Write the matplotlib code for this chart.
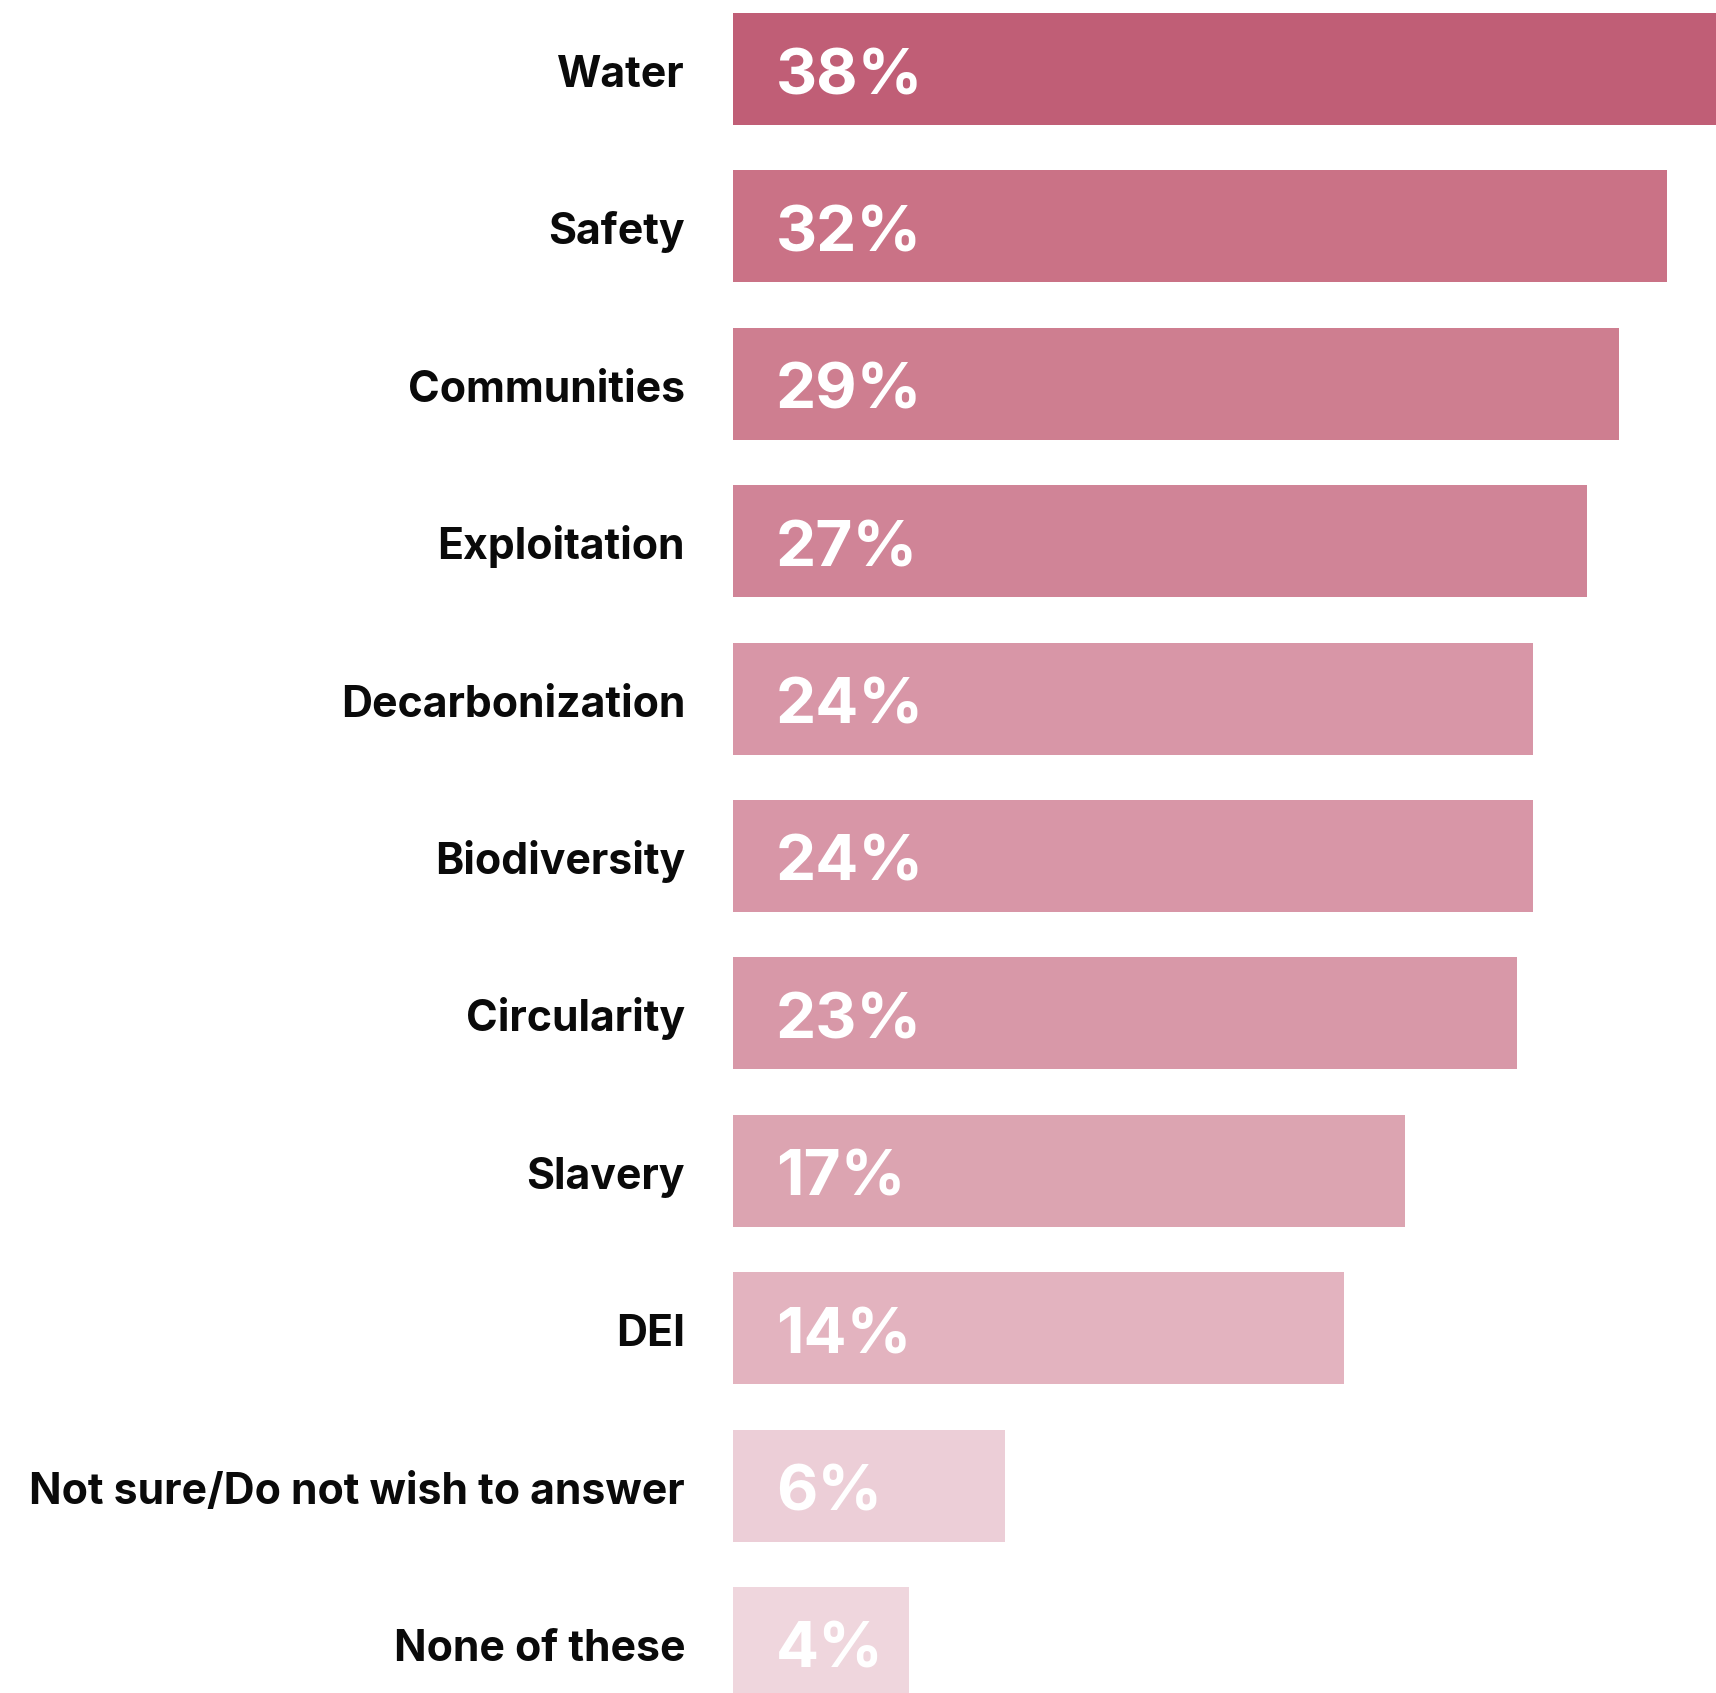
import matplotlib
matplotlib.use("Agg")
import matplotlib.pyplot as plt
from matplotlib.transforms import offset_copy

categories = ["Water", "Safety", "Communities", "Exploitation", "Decarbonization",
              "Biodiversity", "Circularity", "Slavery", "DEI",
              "Not sure/Do not wish to answer", "None of these"]
value_labels = ["38%", "32%", "29%", "27%", "24%", "24%", "23%", "17%", "14%", "6%", "4%"]
# bar lengths as drawn in the picture, relative to the Water bar (=100)
bar_lengths = [100, 95.0, 90.1, 86.9, 81.4, 81.4, 79.8, 68.4, 62.2, 27.7, 17.9]
colors = ["#C05E76", "#CA7286", "#CE7E90", "#D08497", "#D896A7", "#D896A7",
          "#D898A8", "#DCA4B1", "#E3B3BF", "#ECCED7", "#EFD6DD"]

W, H, DPI = 1716, 1693, 100
fig = plt.figure(figsize=(W / DPI, H / DPI), dpi=DPI)
ax_left = 733 / W
ax = fig.add_axes([ax_left, 0, 1 - ax_left, 1])

y = list(range(len(categories)))
ax.barh(y, bar_lengths, height=0.712, color=colors, left=0)

ax.set_xlim(0, 100)
ax.set_ylim(10.318, -0.4384)
ax.axis("off")

px = 72 / DPI
for i, (cat, lab) in enumerate(zip(categories, value_labels)):
    t_cat = offset_copy(ax.transData, fig=fig, x=-48 * px, y=-18 * px, units="points")
    ax.text(0, i, cat, transform=t_cat, ha="right", va="baseline",
            fontsize=30.8, fontweight="bold", family=["Inter", "DejaVu Sans"],
            color="#0a0a0a", clip_on=False)
    t_val = offset_copy(ax.transData, fig=fig, x=43 * px, y=-25 * px, units="points")
    ax.text(0, i, lab, transform=t_val, ha="left", va="baseline",
            fontsize=46, fontweight="bold", family=["Inter", "DejaVu Sans"],
            color="white", clip_on=False)

fig.savefig("out.png", dpi=DPI, facecolor="white")
